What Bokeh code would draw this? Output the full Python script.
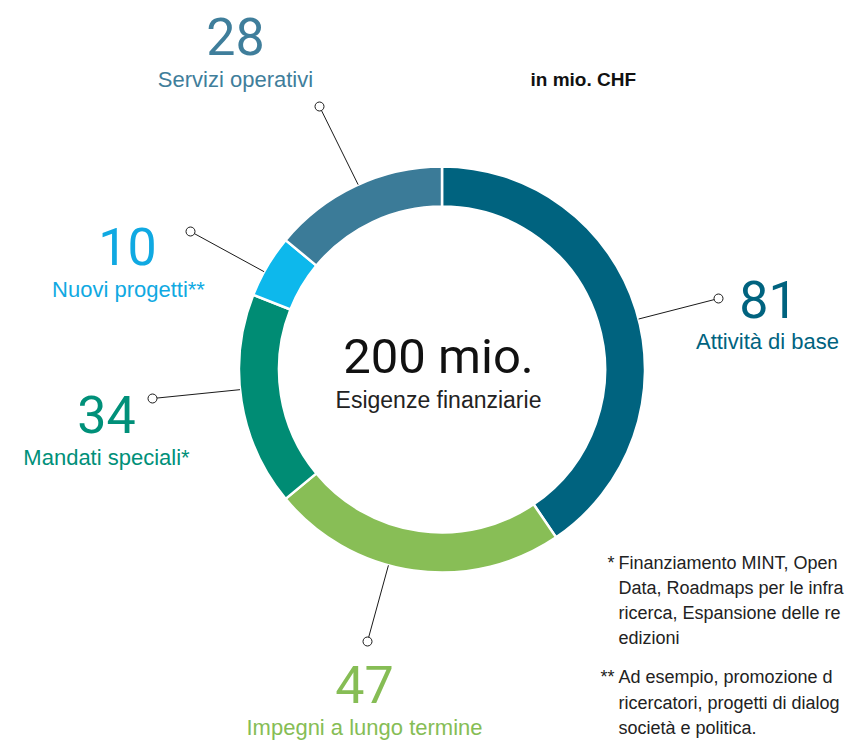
import numpy as np
from bokeh.plotting import figure
from bokeh.models import Range1d, ColumnDataSource
from bokeh.core.properties import value
from bokeh.embed import file_html
from bokeh.resources import INLINE

# ---- data (clockwise from 12 o'clock) ----
categories = ["Attività di base", "Impegni a lungo termine", "Mandati speciali*",
              "Nuovi progetti**", "Servizi operativi"]
values = [81, 47, 34, 10, 28]
seg_colors = ["#00637f", "#88be56", "#008c74", "#0db8ec", "#3b7b98"]
txt_colors = ["#00637f", "#86bd55", "#009079", "#10a9e2", "#3f7e9b"]
total_label = "200 mio."
total_sub = "Esigenze finanziarie"
unit_label = "in mio. CHF"
note1 = ["Finanziamento MINT, Open", "Data, Roadmaps per le infra",
         "ricerca, Espansione delle re", "edizioni"]
note2 = ["Ad esempio, promozione d", "ricercatori, progetti di dialog",
         "società e politica."]

# ---- layout (picture pixel coordinates, y measured downward) ----
W, H = 845, 742
def Y(py):
    return H - py

def TB(py, fs):
    # baseline position for a text of font size fs (svg baseline correction)
    return Y(py) + 0.35 * fs

CX, CY = 441.5, 369
R_IN, R_OUT = 163, 203
# leader anchor angle (deg, standard) and end-circle position per category
anchor_deg = [14.4, 254.7, 185.7, 151.2, 114.4]
dot_xy = [(718, 298), (367, 641), (152, 398), (190, 231), (319, 106)]
# label positions: number centre-x / baseline, caption centre-x / baseline
num_xy = [(768, 317), (364, 702), (106, 432), (127, 264), (235, 54)]
cap_x = [767, 364, 106, 128, 235]
cap_y = [349, 735, 465, 297, 87]

NUM_FS, CAP_FS, TOT_FS, SUB_FS, UNIT_FS, FN_FS = 52, 22, 49, 23, 19, 18

p = figure(width=W, height=H, output_backend="svg", toolbar_location=None,
           x_range=Range1d(0, W), y_range=Range1d(0, H), min_border=0)
p.axis.visible = False
p.grid.visible = False
p.outline_line_color = None
p.background_fill_color = "white"
p.border_fill_color = "white"

# ---- donut ----
vals = np.array(values, dtype=float)
cum = np.concatenate([[0], np.cumsum(vals)]) / vals.sum() * 360.0
src = ColumnDataSource(dict(
    start=np.deg2rad(90 - cum[:-1]), end=np.deg2rad(90 - cum[1:]), color=seg_colors))
p.annular_wedge(x=CX, y=Y(CY), inner_radius=R_IN, outer_radius=R_OUT,
                start_angle="start", end_angle="end", direction="clock",
                fill_color="color", line_color="white", line_width=2.5, source=src)

# ---- leaders ----
ax = [CX + R_OUT * np.cos(np.deg2rad(a)) for a in anchor_deg]
ay = [Y(CY) + R_OUT * np.sin(np.deg2rad(a)) for a in anchor_deg]
dx = [d[0] for d in dot_xy]
dy = [Y(d[1]) for d in dot_xy]
p.segment(x0=ax, y0=ay, x1=dx, y1=dy, line_color="#1a1a1a", line_width=1)
p.scatter(x=dx, y=dy, size=9, marker="circle", fill_color="white",
          line_color="#1a1a1a", line_width=1)

NUM_FONT = value("Roboto")
LBL_FONT = value("Liberation Sans")

# numbers
p.text(x=[n[0] for n in num_xy], y=[TB(n[1], NUM_FS) for n in num_xy],
       text=[str(v) for v in values], text_color=txt_colors,
       text_font=NUM_FONT, text_font_size=f"{NUM_FS}px", text_align="center",
       text_baseline="alphabetic")
# captions
p.text(x=cap_x, y=[TB(c, CAP_FS) for c in cap_y], text=categories, text_color=txt_colors,
       text_font=LBL_FONT, text_font_size=f"{CAP_FS}px", text_align="center",
       text_baseline="alphabetic")

# centre
p.text(x=[438], y=[TB(373, TOT_FS)], text=[total_label], text_color="#111111",
       text_font=NUM_FONT, text_font_size=f"{TOT_FS}px", text_align="center",
       text_baseline="alphabetic")
p.text(x=[438], y=[TB(408, SUB_FS)], text=[total_sub], text_color="#222222",
       text_font=LBL_FONT, text_font_size=f"{SUB_FS}px", text_align="center",
       text_baseline="alphabetic")

# unit
p.text(x=[530], y=[TB(86, UNIT_FS)], text=[unit_label], text_color="#111111",
       text_font=LBL_FONT, text_font_size=f"{UNIT_FS}px", text_font_style="bold",
       text_align="left", text_baseline="alphabetic")

# footnotes
fn_x = 618
b1 = [569, 594, 619, 644]
b2 = [683, 709, 734]
p.text(x=[fn_x] * (len(note1) + len(note2)), y=[TB(b, FN_FS) for b in b1 + b2],
       text=note1 + note2, text_color="#222222", text_font=LBL_FONT,
       text_font_size=f"{FN_FS}px", text_align="left", text_baseline="alphabetic")
p.text(x=[614, 614], y=[TB(b1[0], FN_FS), TB(b2[0], FN_FS)], text=["*", "**"],
       text_color="#222222", text_font=LBL_FONT, text_font_size=f"{FN_FS}px",
       text_align="right", text_baseline="alphabetic")

open("out.html", "w").write(file_html(p, INLINE))
